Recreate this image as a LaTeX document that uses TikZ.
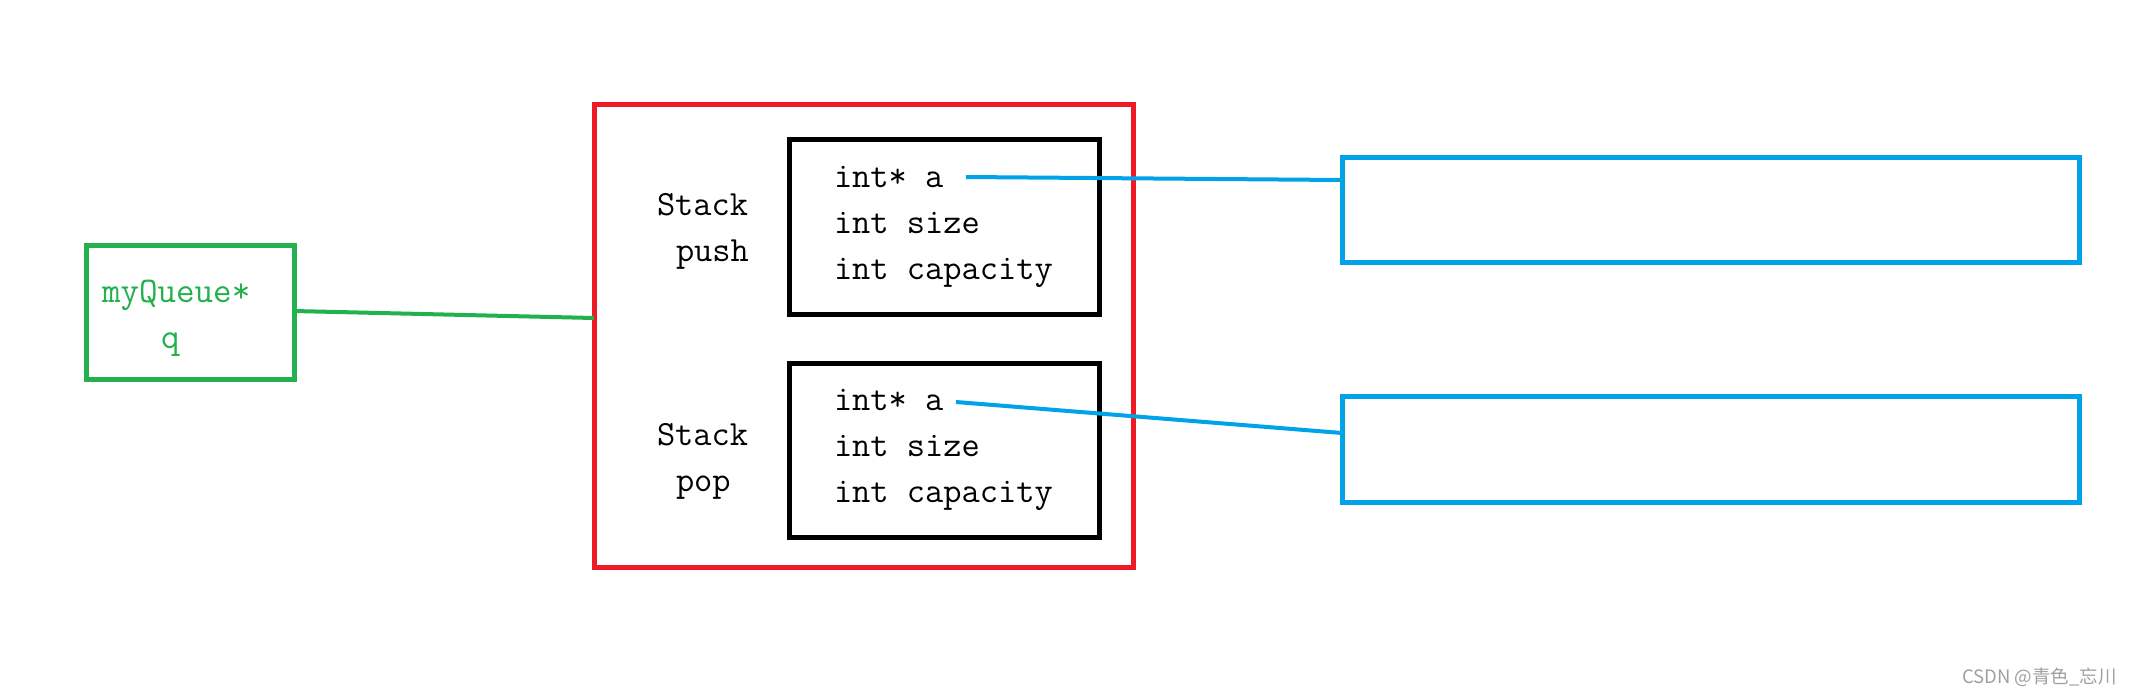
\documentclass[tikz,border=0pt]{standalone}
\usepackage{fontspec}
\newfontfamily\cjkfont{Noto Sans CJK SC}
\definecolor{pgreen}{HTML}{22B14C}
\definecolor{pred}{HTML}{ED1C24}
\definecolor{pblue}{HTML}{00A2E8}
\definecolor{wmgray}{HTML}{A0A0A0}
\tikzset{
  box/.style={draw, line width=5pt, outer sep=0pt, inner sep=0pt},
  lbl/.style={anchor=base west, inner sep=0pt, outer sep=0pt, font=\fontsize{35.4}{46}\selectfont\ttfamily},
  glbl/.style={lbl, text=pgreen, font=\fontsize{36}{46}\selectfont\ttfamily},
  conn/.style={line width=4pt},
}
\begin{document}
\begin{tikzpicture}[x=1pt,y=-1pt]
\useasboundingbox[fill=white] (0,0) rectangle (2133,694);
% boxes
\node[box, pgreen, minimum width=208pt, minimum height=134pt] (green) at (190,312) {};
\node[box, pred, minimum width=539pt, minimum height=463pt] (red) at (863.5,335.5) {};
\node[box, black, minimum width=310pt, minimum height=175pt] (push) at (944,226.5) {};
\node[box, black, minimum width=310pt, minimum height=174pt] (pop) at (944,450) {};
\node[box, pblue, minimum width=737pt, minimum height=105pt] (blue1) at (1710.5,209.5) {};
\node[box, pblue, minimum width=737pt, minimum height=106pt] (blue2) at (1710.5,449) {};
% green text
\node[glbl] (mq) at (102,302) {myQueue*};
\node[glbl] (qq) at (161,348) {q};
% stack labels
\node[lbl] (s1) at (657,215) {Stack};
\node[lbl] (s1b) at (676,261) {push};
\node[lbl] (s2) at (657,445) {Stack};
\node[lbl] (s2b) at (676,491) {pop};
% fields
\node[lbl] (a1) at (834,187) {int* a};
\node[lbl] (z1) at (834,233) {int size};
\node[lbl] (c1) at (834,279) {int capacity};
\node[lbl] (a2) at (834,410) {int* a};
\node[lbl] (z2) at (834,456) {int size};
\node[lbl] (c2) at (834,502) {int capacity};
% connectors
\coordinate (pa1) at (966,177);
\coordinate (pa2) at (956,402);
\draw[conn, pgreen] ([yshift=1pt]green.east) -- ([yshift=17.5pt]red.west);
\draw[conn, pblue] (pa1) -- ([yshift=29.5pt]blue1.west);
\draw[conn, pblue] (pa2) -- ([yshift=16pt]blue2.west);
% watermark
\node[anchor=base east, inner sep=0pt, text=wmgray, font=\fontsize{18.5}{20}\selectfont\cjkfont] (wm) at (2117,683) {CSDN @青色\_忘川};
\end{tikzpicture}
\end{document}
